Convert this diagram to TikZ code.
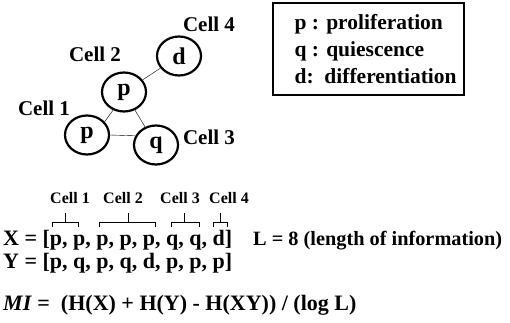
\documentclass[tikz,border=0pt]{standalone}
\usepackage{fontspec}
\setmainfont{Liberation Serif}
\usetikzlibrary{shapes.geometric,calc}

\begin{document}
\begin{tikzpicture}[
	x=1pt, y=1pt,
	cell/.style={ ellipse, draw, line width=2.2pt, inner sep=0pt, minimum width=44pt, minimum height=39pt, font=\fontsize{24}{28}\selectfont\bfseries },
	cellname/.style={ inner sep=0pt, font=\fontsize{21}{25}\selectfont\bfseries },
	smallname/.style={ anchor=base, inner sep=0pt, font=\fontsize{16}{19}\selectfont\bfseries },
	eqline/.style={ anchor=base west, inner sep=0pt, font=\fontsize{22}{26}\selectfont\bfseries },
	brace/.style={ line width=0.8pt }
]
\useasboundingbox (0,0) rectangle (510,322);

\node at (87,187) (one) [cell] {p};
\node at (124,230) (two) [cell] {p};
\node at (156,177) (three) [cell] {q};
\node at (179,266) (four) [cell] {d};
\draw (one.37) to (two.239);
\draw (one.east) to (three.156);
\draw (two) to (three);
\draw (two) to (four);

\node at (44,214) (name1) [cellname] {Cell 1};
\node at (95,268) (name2) [cellname] {Cell 2};
\node at (209,185) (name3) [cellname] {Cell 3};
\node at (209,298) (name4) [cellname] {Cell 4};

% legend
\node at (368.5,273) (legend) [draw, line width=1.2pt, minimum width=191pt, minimum height=92pt] {};
\node at ($(legend.west)+(22,0)$) (legendtext) [anchor=west, align=left, inner sep=0pt, font=\fontsize{21.5}{27}\selectfont\bfseries]
	{p : proliferation\\ q : quiescence\\ d:\ \ differentiation};

% sequences
\node at (3,77) (xseq) [eqline] {X = [p, p, p, p, p, q, q, d]};
\node at (3,54) (yseq) [eqline] {Y = [p, q, p, q, d, p, p, p]};
\node at (253,77) (len) [eqline, font=\fontsize{20.3}{24}\selectfont\bfseries] {L = 8 (length of information)};
\node at (3,12) (mi) [eqline] {\textit{MI} =\ \ (H(X) + H(Y) - H(XY)) / (log L)};

\draw [brace] (52,95) -- (52,100) -- (78,100) -- (78,95);
\draw [brace] (65,100) -- (65,109);
\draw [brace] (99,95) -- (99,100) -- (155,100) -- (155,95);
\draw [brace] (128,100) -- (128,109);
\draw [brace] (171,95) -- (171,100) -- (199,100) -- (199,95);
\draw [brace] (184,100) -- (184,109);
\draw [brace] (213,95) -- (213,100) -- (227,100) -- (227,95);
\draw [brace] (220,100) -- (220,109);

\node at (70,119) (small1) [smallname] {Cell 1};
\node at (123,119) (small2) [smallname] {Cell 2};
\node at (180,119) (small3) [smallname] {Cell 3};
\node at (229,119) (small4) [smallname] {Cell 4};

\end{tikzpicture}
\end{document}
